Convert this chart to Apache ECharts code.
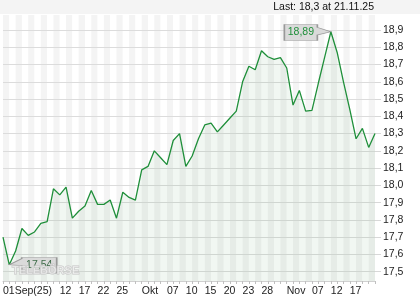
<!DOCTYPE html>
<html lang="de">
<head>
<meta charset="UTF-8">
<title>Kursverlauf</title>
<script src="https://cdn.jsdelivr.net/npm/echarts@6/dist/echarts.min.js"></script>
<style>
  html, body { margin: 0; padding: 0; background: #fff; }
  #chart { width: 420px; height: 300px; }
</style>
</head>
<body>
<div id="chart"></div>
<script>
// trading days 01.09.2025 - 21.11.2025
const dates = [
  '01.09.', '02.09.', '03.09.', '04.09.', '05.09.', '08.09.', '09.09.', '10.09.', '11.09.', '12.09.',
  '15.09.', '16.09.', '17.09.', '18.09.', '19.09.', '22.09.', '23.09.', '24.09.', '25.09.', '26.09.',
  '29.09.', '30.09.', '01.10.', '02.10.', '03.10.', '06.10.', '07.10.', '08.10.', '09.10.', '10.10.',
  '13.10.', '14.10.', '15.10.', '16.10.', '17.10.', '20.10.', '21.10.', '22.10.', '23.10.', '24.10.',
  '27.10.', '28.10.', '29.10.', '30.10.', '31.10.', '03.11.', '04.11.', '05.11.', '06.11.', '07.11.',
  '10.11.', '11.11.', '12.11.', '13.11.', '14.11.', '17.11.', '18.11.', '19.11.', '20.11.', '21.11.'
];
const prices = [
  17.70, 17.54, 17.62, 17.75, 17.71, 17.73, 17.78, 17.79, 17.98, 17.945,
  17.99, 17.81, 17.85, 17.88, 17.97, 17.89, 17.89, 17.915, 17.81, 17.96,
  17.93, 17.915, 18.09, 18.11, 18.20, 18.16, 18.12, 18.26, 18.30, 18.11,
  18.17, 18.27, 18.35, 18.36, 18.31, 18.35, 18.39, 18.43, 18.60, 18.69,
  18.67, 18.78, 18.745, 18.73, 18.74, 18.68, 18.465, 18.55, 18.43, 18.435,
  18.59, 18.74, 18.89, 18.77, 18.60, 18.44, 18.27, 18.33, 18.22, 18.30
];
const labelDates = ['01.09.', '12.09.', '17.09.', '22.09.', '25.09.', '01.10.', '07.10.', '10.10.',
  '15.10.', '20.10.', '23.10.', '28.10.', '03.11.', '07.11.', '12.11.', '17.11.'];
const labelTexts = ['01Sep(25)', '12', '17', '22', '25', 'Okt', '07', '10',
  '15', '20', '23', '28', 'Nov', '07', '12', '17'];
const lastDate = '21.11.25';

const green = '#1f8f3a';
const font = '"Liberation Sans", Arial, sans-serif';
const fmt = v => String(v).replace('.', ',');

const chart = echarts.init(document.getElementById('chart'));

chart.setOption({
  animation: false,
  backgroundColor: '#fff',
  grid: { left: 3, right: 45, top: 15, bottom: 19 },
  graphic: [
    { type: 'rect', shape: { x: 0, y: 0, width: 420, height: 14 }, style: { fill: '#f4f4f4' }, z: -1 },
    {
      type: 'text', x: 374, y: 7,
      style: {
        text: 'Last: ' + fmt(prices[prices.length - 1]) + ' at ' + lastDate,
        align: 'right', verticalAlign: 'middle', fill: '#111', font: '10.5px ' + font
      }
    },
    {
      type: 'text', x: 12, y: 265, z: 100,
      style: {
        text: 'TELEBÖRSE', fill: 'rgba(255,255,255,0.5)', stroke: '#c4c4c4', lineWidth: 1,
        font: 'bold 11px ' + font
      }
    }
  ],
  xAxis: {
    type: 'category',
    data: dates,
    boundaryGap: false,
    z: 0,
    axisLine: { lineStyle: { color: '#d0d0d0' } },
    axisTick: { show: true, interval: 0, length: 3, lineStyle: { color: '#c0c0c0' } },
    axisLabel: {
      interval: (i, v) => labelDates.includes(v),
      formatter: v => labelTexts[labelDates.indexOf(v)],
      align: 'left', margin: 5, color: '#222', fontSize: 10.5, fontFamily: font
    },
    splitLine: { show: false },
    splitArea: { show: true, interval: 0, areaStyle: { color: ['#f4f4f4', '#ffffff'] } }
  },
  yAxis: {
    type: 'value',
    position: 'right',
    z: 1,
    min: 17.446,
    max: 18.987,
    splitNumber: 15,
    minInterval: 0.1,
    maxInterval: 0.1,
    axisLine: { show: false },
    axisTick: { show: true, length: 6, lineStyle: { color: '#d8d8d8' } },
    axisLabel: {
      margin: 8, color: '#222', fontSize: 10.5, fontFamily: font,
      showMinLabel: false, showMaxLabel: false,
      formatter: v => Math.abs(v * 10 - Math.round(v * 10)) < 1e-6 ? v.toFixed(1).replace('.', ',') : ''
    },
    splitLine: { show: true, showMinLine: false, showMaxLine: false, lineStyle: { color: '#dcdcdc' } }
  },
  series: [{
    type: 'line',
    data: prices,
    symbol: 'none',
    lineStyle: { color: green, width: 1.3 },
    areaStyle: { color: 'rgba(30,130,50,0.09)', origin: 'start' },
    markPoint: {
      silent: true,
      itemStyle: { color: '#dadada', borderColor: '#999', borderWidth: 1 },
      label: {
        color: green, fontSize: 10.5, fontFamily: font,
        formatter: p => p.value.toFixed(2).replace('.', ',')
      },
      data: [
        {
          type: 'max',
          symbol: 'path://M0,0 L33,0 L33,3 L46.5,7.3 L33,10.5 L33,16 L0,16 Z',
          symbolSize: [46.5, 16],
          symbolOffset: [-23.25, 0.7],
          label: { position: 'inside', offset: [-6.75, 0] }
        },
        {
          type: 'min',
          symbol: 'path://M0,7.2 L12.4,1 L12.4,0 L47.4,0 L47.4,15.6 L12.4,15.6 L12.4,8 Z',
          symbolSize: [47.4, 15.6],
          symbolOffset: [23.7, 0.6],
          label: { position: 'inside', offset: [6.2, 0], color: '#3d6b48' }
        }
      ]
    }
  }]
});
</script>
</body>
</html>
